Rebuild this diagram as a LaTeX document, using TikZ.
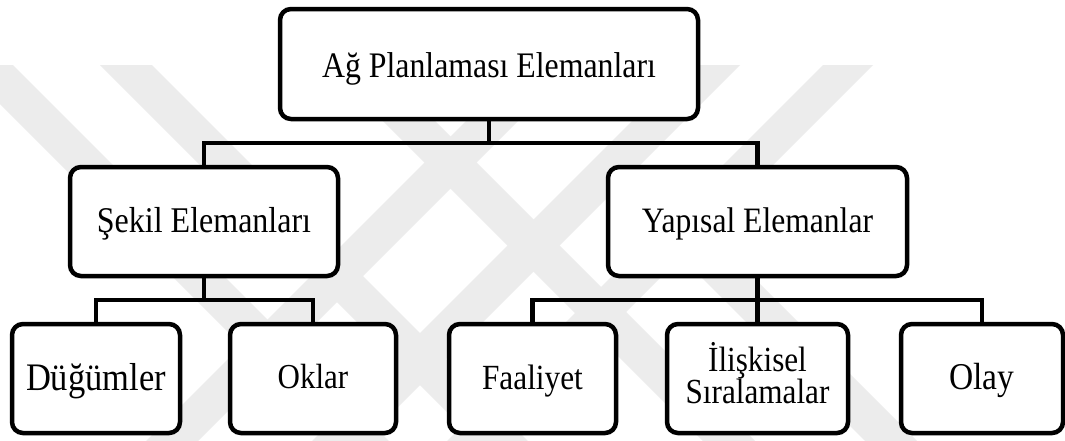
\documentclass[tikz,border=0pt]{standalone}
\usepackage{graphicx}
\usepackage{fontspec}
\setmainfont{Liberation Serif}
\definecolor{embgray}{RGB}{236,236,236}
% labels are set a little taller than wide
\newcommand\tallt[1]{\scalebox{1}[1.13]{#1}}
\newcommand\fs[1]{\fontsize{#1}{#1}\selectfont}
\begin{document}
\begin{tikzpicture}[x=1pt,y=-1pt,
  box/.style={draw=black,line width=4.5pt,rounded corners=11pt,fill=white,
    inner sep=0pt,outer sep=0pt},
  conn/.style={draw=black,line width=4.5pt,line join=miter},
  lbl/.style={inner sep=0pt,anchor=base,font=\fs{32}}]
\useasboundingbox (0,0) rectangle (1065,440);
\fill[white] (0,0) rectangle (1065,440);

% faint striped emblem in the background
\begin{scope}
\clip (0,65) rectangle (1065,440);
\fill[embgray] (-39,65) -- (13,65) -- (393,445) -- (341,445) -- cycle;
\fill[embgray] (100,65) -- (152,65) -- (532,445) -- (480,445) -- cycle;
\fill[embgray] (688,65) -- (740,65) -- (360,445) -- (308,445) -- cycle;
\fill[embgray] (823,65) -- (873,65) -- (493,445) -- (443,445) -- cycle;
\fill[embgray] (487,100) -- (539,100) -- (194,445) -- (142,445) -- cycle;
\fill[embgray] (382,120) -- (434,120) -- (759,445) -- (707,445) -- cycle;
\fill[embgray] (649,225) -- (701,225) -- (921,445) -- (869,445) -- cycle;
\end{scope}

% level 1
\node[box,minimum width=418pt,minimum height=110pt] (top) at (489,64) {};
% level 2
\node[box,minimum width=268pt,minimum height=109pt] (sek) at (204,221.5) {};
\node[box,minimum width=299pt,minimum height=109pt] (yap) at (757.5,221.5) {};
% level 3
\node[box,minimum width=168pt,minimum height=109pt] (dug) at (96,378.5) {};
\node[box,minimum width=166pt,minimum height=109pt] (okl) at (313,378.5) {};
\node[box,minimum width=167pt,minimum height=109pt] (faa) at (532.5,378.5) {};
\node[box,minimum width=181pt,minimum height=109pt] (ili) at (757.5,378.5) {};
\node[box,minimum width=162pt,minimum height=109pt] (ola) at (982,378.5) {};

% labels
\node[lbl,font=\fs{31.8}] (topt) at (489,77) {\tallt{Ağ Planlaması Elemanları}};
\node[lbl] (sekt) at (204,232) {\tallt{Şekil Elemanları}};
\node[lbl,font=\fs{31.6}] (yapt) at (757.5,232) {\tallt{Yapısal Elemanlar}};
\node[lbl,font=\fs{34.5}] (dugt) at (96,390) {\tallt{Düğümler}};
\node[lbl,font=\fs{31}] (oklt) at (313,388) {\tallt{Oklar}};
\node[lbl,font=\fs{31.3}] (faat) at (532.5,389) {\tallt{Faaliyet}};
\node[lbl,font=\fs{31.2}] (ilit1) at (757.5,371) {\tallt{İlişkisel}};
\node[lbl,font=\fs{31.2}] (ilit2) at (757.5,403) {\tallt{Sıralamalar}};
\node[lbl,font=\fs{33.5}] (olat) at (982,389) {\tallt{Olay}};

% junction points of the tree connectors
\coordinate (j1) at (489,143);
\coordinate (j2) at (204,300);
\coordinate (j3) at (757.5,300);

\draw[conn] (top.south) -- (j1);
\draw[conn] (sek.north) |- (j1) -| (yap.north);
\draw[conn] (sek.south) -- (j2);
\draw[conn] (dug.north) |- (j2) -| (okl.north);
\draw[conn] (yap.south) -- (ili.north);
\draw[conn] (faa.north) |- (j3) -| (ola.north);
\end{tikzpicture}
\end{document}
